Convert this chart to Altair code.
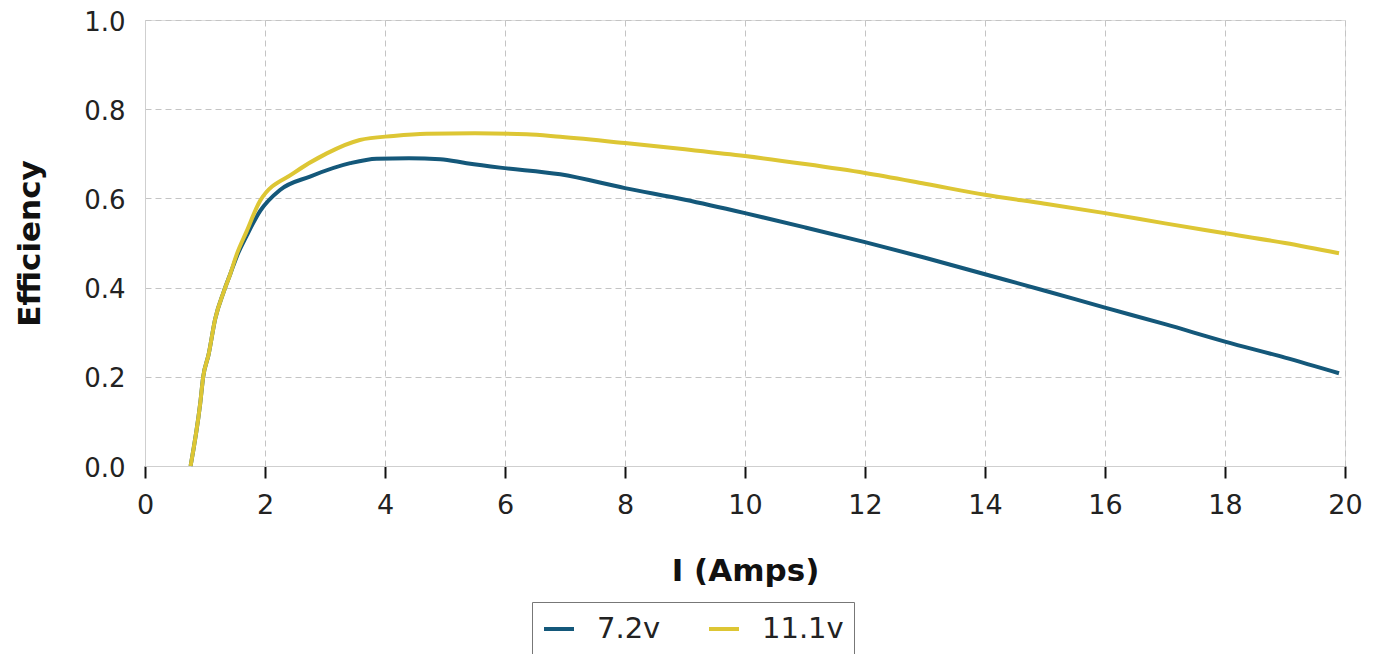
import altair as alt
import pandas as pd

# 7.2v series
x_72 = [0.76, 0.92, 0.97, 1.06, 1.17, 1.31, 1.42, 1.53, 1.69, 1.92, 2.25, 2.75, 3.42, 3.86, 4.4, 4.92, 5.36, 5.92, 6.92, 8.0, 9.0, 10.0, 11.0, 12.0, 13.0, 14.0, 15.0, 16.0, 17.0, 18.0, 19.0, 19.9]
y_72 = [0.0, 0.14, 0.2, 0.25, 0.33, 0.39, 0.43, 0.47, 0.515, 0.572, 0.619, 0.649, 0.679, 0.689, 0.69, 0.688, 0.679, 0.669, 0.654, 0.623, 0.597, 0.567, 0.535, 0.502, 0.467, 0.43, 0.393, 0.355, 0.318, 0.279, 0.243, 0.208]

# 11.1v series
x_111 = [0.76, 0.92, 0.97, 1.06, 1.17, 1.31, 1.42, 1.53, 1.69, 1.92, 2.47, 3.03, 3.58, 4.14, 4.69, 5.5, 6.36, 6.92, 8.0, 9.0, 10.0, 11.0, 12.0, 13.0, 14.0, 15.0, 16.0, 17.0, 18.0, 19.0, 19.9]
y_111 = [0.0, 0.14, 0.2, 0.25, 0.33, 0.39, 0.43, 0.475, 0.525, 0.595, 0.656, 0.701, 0.731, 0.74, 0.745, 0.746, 0.744, 0.738, 0.724, 0.71, 0.695, 0.677, 0.657, 0.633, 0.608, 0.588, 0.567, 0.544, 0.522, 0.5, 0.477]

series_names = ["7.2v", "11.1v"]
series_colors = ["#14587a", "#ddc634"]

df = pd.concat([
    pd.DataFrame({"I": x_72, "Eff": y_72, "series": series_names[0], "order": range(len(x_72))}),
    pd.DataFrame({"I": x_111, "Eff": y_111, "series": series_names[1], "order": range(len(x_111))}),
])

font = "DejaVu Sans"

chart = alt.Chart(df).mark_line(strokeWidth=4, interpolate="monotone").encode(
    x=alt.X("I:Q", title="I (Amps)",
            scale=alt.Scale(domain=[0, 20], nice=False),
            axis=alt.Axis(values=list(range(0, 21, 2)), format="d", labelFlush=False,
                          grid=True, gridDash=[6, 4], gridColor="#c4c4c4",
                          domainColor="#cfcfcf", tickColor="#111111", tickSize=12, tickWidth=2,
                          labelFontSize=27, labelColor="#222", labelPadding=14,
                          titleFontSize=31, titleFontWeight="bold", titlePadding=38,
                          titleColor="#111", labelFont=font, titleFont=font)),
    y=alt.Y("Eff:Q", title="Efficiency",
            scale=alt.Scale(domain=[0, 1], nice=False),
            axis=alt.Axis(values=[0, 0.2, 0.4, 0.6, 0.8, 1.0], format=".1f", labelFlush=False,
                          grid=True, gridDash=[6, 4], gridColor="#c4c4c4",
                          domainColor="#cfcfcf", ticks=False, labelOffset=2,
                          labelFontSize=26, labelColor="#222", labelPadding=20,
                          titleFontSize=31, titleFontWeight="bold", titlePadding=37,
                          titleColor="#111", labelFont=font, titleFont=font)),
    color=alt.Color("series:N", sort=series_names,
                    scale=alt.Scale(domain=series_names, range=series_colors),
                    legend=alt.Legend(title=None, orient="none", direction="horizontal",
                                      legendX=387, legendY=582,
                                      strokeColor="#777", fillColor="white",
                                      padding=10, symbolType="stroke", symbolStrokeWidth=4,
                                      symbolSize=900, labelFontSize=29, labelFont=font,
                                      labelColor="#222", columnPadding=40, labelOffset=21)),
    order="order:Q",
).properties(
    width=1200, height=446,
    autosize=alt.AutoSizeParams(type="none"),
    padding={"left": 137, "top": 12, "right": 30, "bottom": 188},
).configure_view(stroke="#cfcfcf").configure(background="white")

chart.save("out.html", embed_options={"renderer": "svg", "actions": False})
